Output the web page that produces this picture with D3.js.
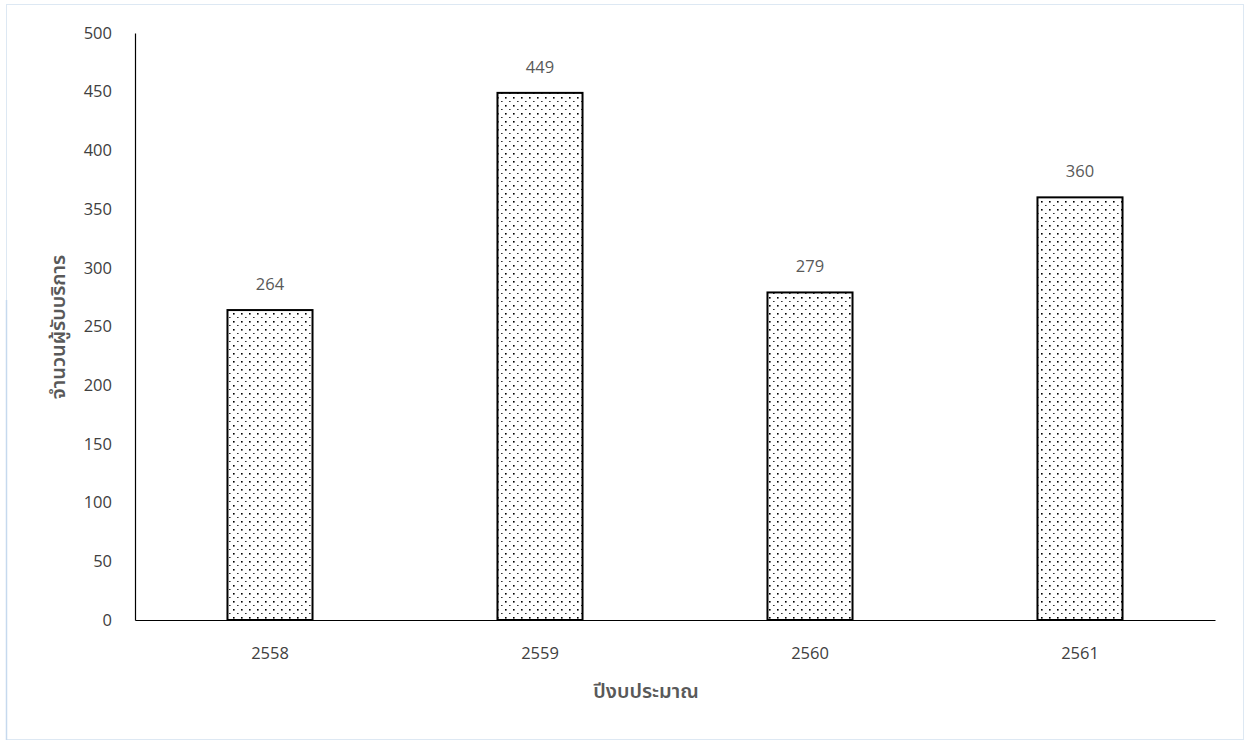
<!DOCTYPE html>
<html><head><meta charset="utf-8">
<script src="https://cdn.jsdelivr.net/npm/d3@7"></script>
<style>
html,body{margin:0;padding:0;background:#fff;}
svg{display:block;font-family:"Noto Sans Thai","Noto Sans","Leelawadee UI",Tahoma,"DejaVu Sans",sans-serif;}
</style></head>
<body><svg id="c" width="1245" height="742"></svg>
<script>
const categories = ["2558","2559","2560","2561"];
const values = [264,449,279,360];
const yTicks = [0,50,100,150,200,250,300,350,400,450,500];
const xTitle = "ปีงบประมาณ";
const yTitle = "จำนวนผู้รับบริการ";

const svg = d3.select("#c");
const W = 1245, H = 742;
const m = {left:135, right:30, top:33, bottom:122};
const numFont = "'Open Sans','Noto Sans',sans-serif";

// outer border
svg.append("rect").attr("x",6.5).attr("y",4.5).attr("width",1237).attr("height",735)
  .attr("fill","none").attr("stroke","#dde8f3").attr("stroke-width",1);
svg.append("line").attr("x1",6.5).attr("x2",6.5).attr("y1",300).attr("y2",740)
  .attr("stroke","#c6d9ee").attr("stroke-width",1.5);

const defs = svg.append("defs");
const pat = defs.append("pattern").attr("id","dots").attr("patternUnits","userSpaceOnUse")
  .attr("width",8).attr("height",8);
pat.append("rect").attr("width",8).attr("height",8).attr("fill","#fff");
pat.append("rect").attr("x",1).attr("y",1).attr("width",1.6).attr("height",1.6).attr("fill","#000");
pat.append("rect").attr("x",5).attr("y",5).attr("width",1.6).attr("height",1).attr("fill","#333");

const x = d3.scaleBand().domain(categories).range([m.left, W-m.right]).paddingInner(0.685).paddingOuter(0.3425);
const y = d3.scaleLinear().domain([0,500]).range([H-m.bottom, m.top]);

// y axis
const ya = svg.append("g").attr("transform",`translate(${m.left},0)`)
  .call(d3.axisLeft(y).tickValues(yTicks).tickSize(0).tickPadding(23));
ya.select(".domain").attr("stroke","#000").attr("stroke-width",1.2);
ya.selectAll("text").attr("font-size",16.5).attr("fill","#404040").attr("font-family",numFont);

// bars
svg.append("g").selectAll("rect").data(values).join("rect")
  .attr("x",(d,i)=>x(categories[i]))
  .attr("y",d=>y(d))
  .attr("width",x.bandwidth())
  .attr("height",d=>y(0)-y(d))
  .attr("fill","url(#dots)").attr("stroke","#000").attr("stroke-width",2);

// x axis
const xa = svg.append("g").attr("transform",`translate(0,${y(0)})`)
  .call(d3.axisBottom(x).tickSize(0).tickPadding(27));
xa.select(".domain").attr("stroke","#000").attr("stroke-width",1.2);
xa.selectAll("text").attr("font-size",16.5).attr("fill","#404040").attr("font-family",numFont);

// labels
svg.append("g").selectAll("text").data(values).join("text")
  .attr("x",(d,i)=>x(categories[i])+x.bandwidth()/2)
  .attr("y",d=>y(d)-20)
  .attr("text-anchor","middle").attr("font-size",16.5).attr("fill","#595959")
  .attr("font-family",numFont)
  .text(d=>d);

// titles
svg.append("text").attr("x",646).attr("y",698)
  .attr("text-anchor","middle").attr("font-size",20).attr("font-weight",600).attr("fill","#595959").text(xTitle);
svg.append("text").attr("transform",`translate(65,327) rotate(-90)`)
  .attr("text-anchor","middle").attr("font-size",20).attr("font-weight",600).attr("fill","#595959").text(yTitle);
</script></body></html>
